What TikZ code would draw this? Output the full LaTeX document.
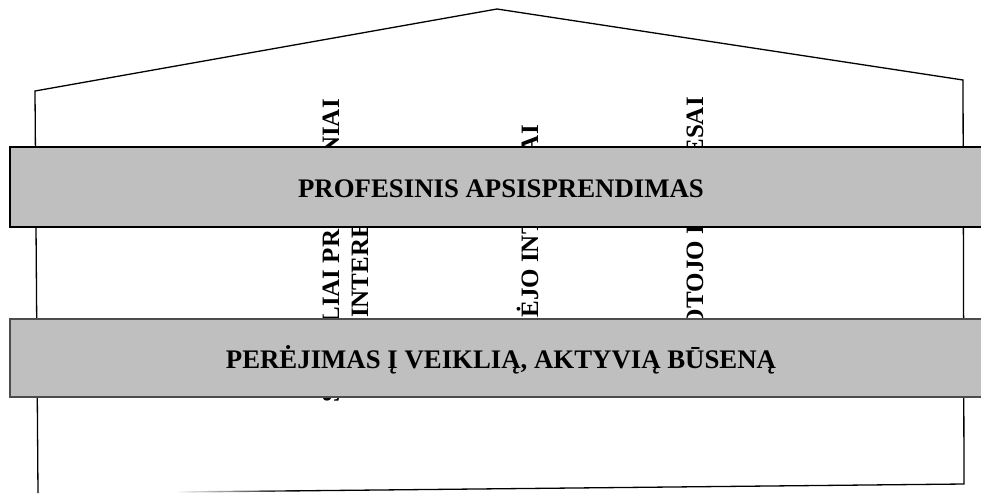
\documentclass[tikz,border=0pt]{standalone}
\usepackage{fontspec}
\setmainfont{Liberation Serif}
\usetikzlibrary{calc}
\tikzset{
  band/.style={fill=black!25, draw=black, line width=1.6pt},
  bandtext/.style={font=\fontsize{26.8}{30}\selectfont\bfseries, inner sep=0pt, anchor=base},
  vtext/.style={font=\fontsize{25}{30}\selectfont\bfseries, inner sep=0pt, rotate=90}
}
\begin{document}
\begin{tikzpicture}[x=1pt,y=-1pt]
			%%%%% START %%%%%
			\useasboundingbox (0,0) rectangle (981,493);
			
			\draw[line width=1.3pt] (38,493) -- (35,91) -- (497,9) -- (963,80) -- (964,484) -- (300,490.8);
			\shade[left color=white, right color=black] (175,491.3) -- (300,490.1) -- (300,491.5) -- (175,492.7) -- cycle;
			
			\node[vtext, anchor=base east] (soc) at (339,99) {SOCIALIAI PROFESINIAI};
			\node[vtext, anchor=base west] (int) at (368,318) {INTERESAI};
			\node[vtext, anchor=base east] (teik) at (538,125) {TEIKĖJO INTERESAI};
			\node[vtext, anchor=base east] (iesk) at (703,97) {IEŠKOTOJO INTERESAI};
			
			\draw[band] (10,147) rectangle (995,227);
			\node[bandtext] (prof) at (501,197) {PROFESINIS APSISPRENDIMAS};
			
			\draw[band, draw=black!70] (10,319) rectangle (995,397);
			\node[bandtext] (perej) at (501,368) {PERĖJIMAS Į VEIKLIĄ, AKTYVIĄ BŪSENĄ};
			%%%%% END %%%%%
\end{tikzpicture}
\end{document}
